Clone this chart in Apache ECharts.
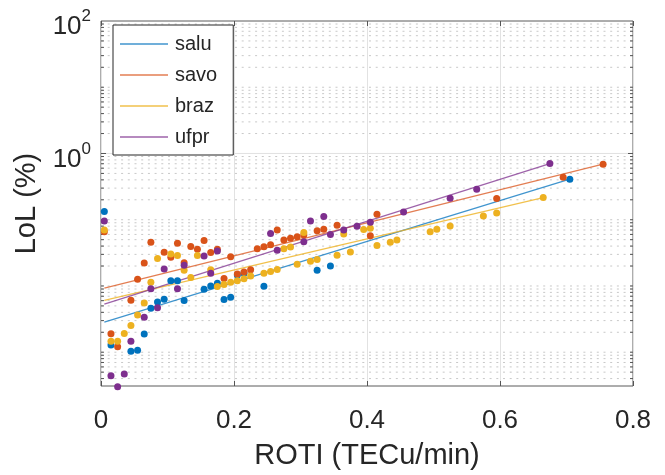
<!DOCTYPE html>
<html>
<head>
<meta charset="utf-8">
<script src="https://cdn.jsdelivr.net/npm/echarts@6/dist/echarts.min.js"></script>
<style>
  html, body { margin: 0; padding: 0; background: #fff; }
  #chart { width: 665px; height: 475px; }
</style>
</head>
<body>
<div id="chart"></div>
<script>
// station names (legend order)
var stations = ['salu', 'savo', 'braz', 'ufpr'];

// ROTI (TECu/min) and LoL (%) per station
var saluRoti = [0.005, 0.015, 0.045, 0.055, 0.065, 0.075, 0.085, 0.095, 0.105, 0.115, 0.125, 0.155, 0.165, 0.175, 0.185, 0.195, 0.205, 0.215, 0.245, 0.325, 0.345, 0.705];
var saluLol  = [0.133, 0.00129, 0.00103, 0.00107, 0.00188, 0.00459, 0.00574, 0.0063, 0.012, 0.012, 0.00603, 0.00894, 0.01, 0.011, 0.00623, 0.00674, 0.0147, 0.0156, 0.0099, 0.0173, 0.02, 0.409];

var savoRoti = [0.005, 0.015, 0.025, 0.045, 0.055, 0.065, 0.075, 0.095, 0.105, 0.115, 0.125, 0.135, 0.145, 0.155, 0.165, 0.175, 0.185, 0.195, 0.205, 0.215, 0.225, 0.235, 0.245, 0.255, 0.265, 0.275, 0.285, 0.295, 0.305, 0.325, 0.335, 0.355, 0.405, 0.415, 0.595, 0.695, 0.755];
var savoLol  = [0.0658, 0.0019, 0.00121, 0.00608, 0.0126, 0.0222, 0.0457, 0.0322, 0.0272, 0.0442, 0.0224, 0.0395, 0.0357, 0.0484, 0.0319, 0.0357, 0.013, 0.0275, 0.0151, 0.0163, 0.0175, 0.0366, 0.0391, 0.0419, 0.0697, 0.0493, 0.0524, 0.0555, 0.0588, 0.0681, 0.0721, 0.0826, 0.0574, 0.1214, 0.209, 0.4375, 0.688];

var brazRoti = [0.005, 0.015, 0.025, 0.035, 0.045, 0.055, 0.065, 0.075, 0.085, 0.105, 0.115, 0.125, 0.135, 0.145, 0.165, 0.175, 0.185, 0.195, 0.205, 0.215, 0.225, 0.245, 0.255, 0.265, 0.275, 0.285, 0.295, 0.305, 0.315, 0.325, 0.355, 0.365, 0.375, 0.395, 0.405, 0.415, 0.435, 0.445, 0.495, 0.505, 0.525, 0.575, 0.595, 0.665];
var brazLol  = [0.0697, 0.00147, 0.00147, 0.00191, 0.00254, 0.00365, 0.00555, 0.01135, 0.026, 0.0304, 0.0288, 0.0173, 0.01345, 0.0288, 0.0175, 0.0098, 0.0105, 0.01135, 0.012, 0.0129, 0.0141, 0.0156, 0.0165, 0.0177, 0.0366, 0.0386, 0.0212, 0.0643, 0.0237, 0.0251, 0.0291, 0.0608, 0.0326, 0.0711, 0.0746, 0.0409, 0.0457, 0.0496, 0.0658, 0.0721, 0.0807, 0.1135, 0.1268, 0.2164];

var ufprRoti = [0.005, 0.015, 0.025, 0.035, 0.045, 0.065, 0.075, 0.085, 0.095, 0.115, 0.125, 0.155, 0.165, 0.175, 0.255, 0.265, 0.305, 0.315, 0.335, 0.345, 0.365, 0.385, 0.405, 0.455, 0.525, 0.565, 0.675];
var ufprLol  = [0.0957, 0.000443, 0.0003, 0.00047, 0.00147, 0.00338, 0.00906, 0.00469, 0.0181, 0.00906, 0.0205, 0.0284, 0.0156, 0.0337, 0.0621, 0.0345, 0.0464, 0.0957, 0.1122, 0.06, 0.0697, 0.08, 0.0916, 0.131, 0.2113, 0.289, 0.705];

// fitted lines, read as end points
var saluFitRoti = [0.005, 0.705], saluFitLol = [0.00285, 0.409];
var savoFitRoti = [0.005, 0.755], savoFitLol = [0.00925, 0.688];
var brazFitRoti = [0.005, 0.665], brazFitLol = [0.00608, 0.2164];
var ufprFitRoti = [0.005, 0.675], ufprFitLol = [0.00531, 0.705];

// axis ranges / labels
var xTicks = [0, 0.2, 0.4, 0.6, 0.8];
var yLabelPowers = [0, 2];
var yMin = 3.09e-4, yMax = 100;

var dotColors  = ['#0072BD', '#D95319', '#EDB120', '#7E2F8E'];
var lineColors = ['rgba(0,114,189,0.75)', 'rgba(217,83,25,0.75)', 'rgba(237,177,32,0.8)', 'rgba(126,47,142,0.75)'];
var FONT = 'Liberation Sans, Arial, Helvetica, sans-serif';

var pts = [[saluRoti, saluLol], [savoRoti, savoLol], [brazRoti, brazLol], [ufprRoti, ufprLol]];
var fits = [[saluFitRoti, saluFitLol], [savoFitRoti, savoFitLol], [brazFitRoti, brazFitLol], [ufprFitRoti, ufprFitLol]];

function zip(a, b) { return a.map(function (v, i) { return [v, b[i]]; }); }

// log grid values k*10^e (decoration only)
var gridVals = [];
for (var e = -4; e <= 1; e++) {
  for (var k = 1; k <= 9; k++) {
    var v = k * Math.pow(10, e);
    if (v > yMin && v < yMax) gridVals.push(v);
  }
}

var chart = echarts.init(document.getElementById('chart'));

var series = [];
series.push({
  type: 'custom',
  name: 'grid',
  silent: true,
  z: 0,
  clip: false,
  animation: false,
  data: gridVals.map(function (v) { return [0, v]; }),
  encode: { x: 0, y: 1 },
  renderItem: function (params, api) {
    var v = api.value(1);
    var p = api.coord([0, v]);
    var cs = params.coordSys;
    var major = Math.abs(v - 1) < 1e-9;
    var tl = major ? 5 : 3;
    return {
      type: 'group',
      children: [
        { type: 'line', shape: { x1: cs.x, y1: p[1], x2: cs.x + cs.width, y2: p[1] },
          style: { stroke: major ? '#e2e2e2' : '#c8c8c8', lineWidth: 1, lineDash: major ? null : [2, 4.7] } },
        { type: 'line', shape: { x1: cs.x, y1: p[1], x2: cs.x + tl, y2: p[1] },
          style: { stroke: '#555', lineWidth: 1 } },
        { type: 'line', shape: { x1: cs.x + cs.width - tl, y1: p[1], x2: cs.x + cs.width, y2: p[1] },
          style: { stroke: '#555', lineWidth: 1 } }
      ]
    };
  }
});

stations.forEach(function (s, i) {
  series.push({
    type: 'line',
    name: s,
    data: zip(fits[i][0], fits[i][1]),
    showSymbol: false,
    symbol: 'none',
    z: 2,
    animation: false,
    itemStyle: { color: lineColors[i] },
    lineStyle: { color: lineColors[i], width: 1.3 }
  });
});

stations.forEach(function (s, i) {
  series.push({
    type: 'scatter',
    name: s + '_pts',
    data: zip(pts[i][0], pts[i][1]),
    symbolSize: 7,
    clip: false,
    z: 3,
    animation: false,
    itemStyle: { color: dotColors[i], opacity: 1 }
  });
});

var option = {
  backgroundColor: '#fff',
  animation: false,
  grid: { left: 101, right: 32, top: 21, bottom: 82, show: true, borderColor: '#5a5a5a', borderWidth: 1, backgroundColor: 'transparent' },
  legend: {
    data: stations,
    orient: 'vertical',
    left: 113,
    top: 25,
    icon: 'rect',
    itemWidth: 48,
    itemHeight: 1.5,
    itemGap: 11,
    padding: [9, 16, 8, 7],
    backgroundColor: '#fff',
    borderColor: '#262626',
    borderWidth: 1,
    borderRadius: 0,
    selectedMode: false,
    textStyle: { fontSize: 20, lineHeight: 20, color: '#262626', fontFamily: FONT, padding: [0, 0, 0, 2] }
  },
  xAxis: [{
    type: 'value',
    min: xTicks[0],
    max: xTicks[xTicks.length - 1],
    interval: 0.2,
    name: 'ROTI (TECu/min)',
    nameLocation: 'middle',
    nameGap: 55,
    nameTextStyle: { fontSize: 29, color: '#262626', fontFamily: FONT },
    axisLine: { show: false },
    axisTick: { show: true, inside: true, length: 5, lineStyle: { color: '#555' } },
    axisLabel: { fontSize: 26, color: '#262626', fontFamily: FONT, margin: 22,
      formatter: function (v) { return String(+v.toFixed(1)); } },
    splitLine: { show: true, lineStyle: { color: '#e2e2e2', width: 1 } }
  }, {
    type: 'value',
    position: 'top',
    min: xTicks[0],
    max: xTicks[xTicks.length - 1],
    interval: 0.2,
    axisLine: { show: false },
    axisTick: { show: true, inside: true, length: 5, lineStyle: { color: '#555' } },
    axisLabel: { show: false },
    splitLine: { show: false }
  }],
  yAxis: {
    type: 'log',
    logBase: 10,
    min: yMin,
    max: yMax,
    name: 'LoL (%)',
    nameLocation: 'middle',
    nameGap: 55,
    nameTextStyle: { fontSize: 29, color: '#262626', fontFamily: FONT },
    axisLine: { show: false },
    axisTick: { show: false },
    splitLine: { show: false },
    axisLabel: {
      margin: 10,
      padding: [12, 0, 0, 0],
      fontFamily: FONT,
      formatter: function (v) {
        var lg = Math.log10(v);
        var ex = Math.round(lg);
        if (Math.abs(lg - ex) > 1e-6) return '';
        if (yLabelPowers.indexOf(ex) < 0) return '';
        return '{b|10}{s|' + ex + '}';
      },
      rich: {
        b: { fontSize: 26, lineHeight: 38, color: '#262626', fontFamily: FONT },
        s: { fontSize: 17, lineHeight: 17, verticalAlign: 'top', color: '#262626', fontFamily: FONT }
      }
    }
  },
  series: series
};

chart.setOption(option);
</script>
</body>
</html>
